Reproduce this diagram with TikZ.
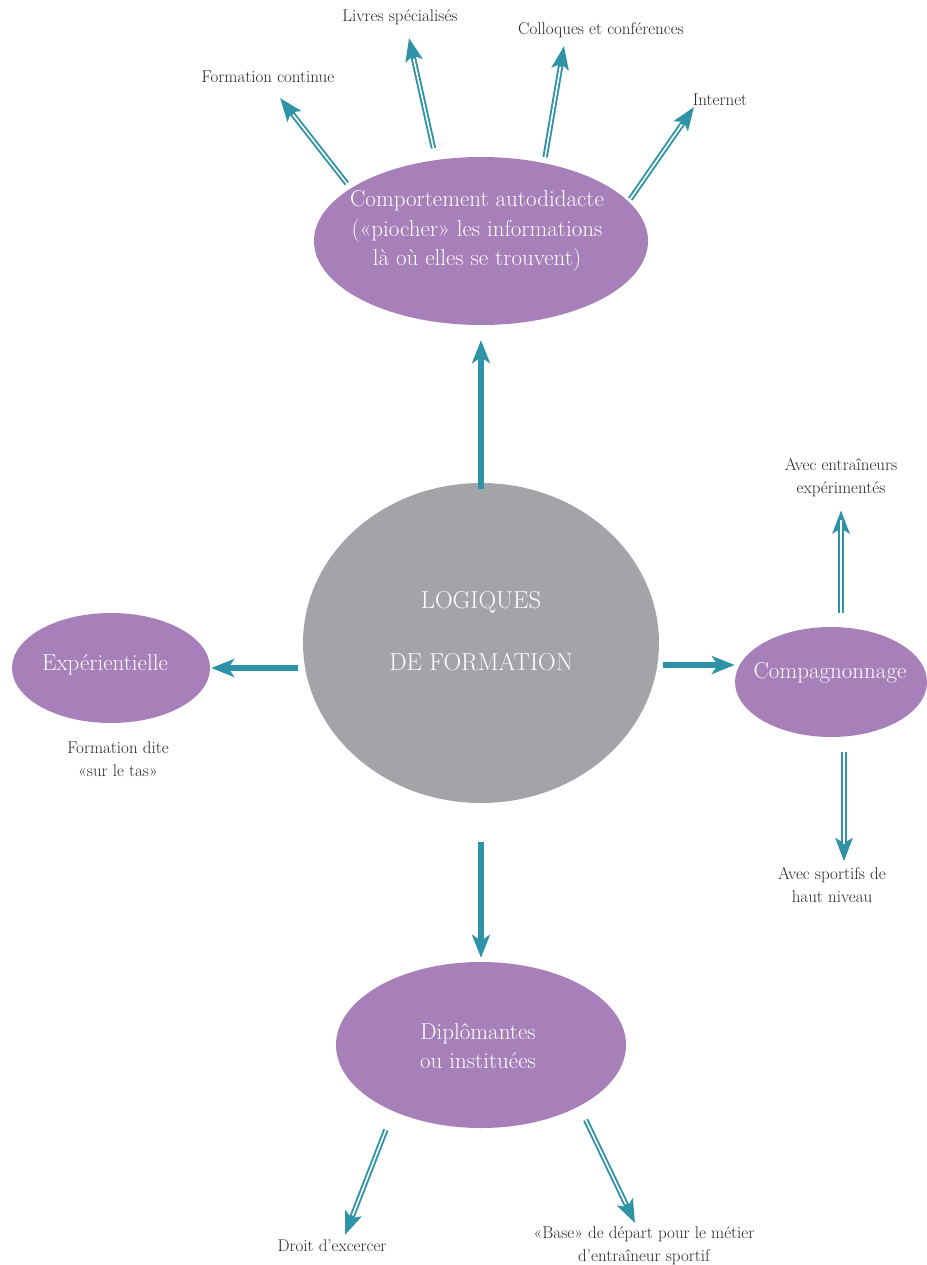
\documentclass[tikz,border=0pt]{standalone}
\usepackage{fontspec}
\usepackage{tikz}
\usetikzlibrary{shapes.geometric, positioning, arrows.meta}
\usepackage{xcolor}
\definecolor{LogiquePurple}{HTML}{A77FB9}
\definecolor{LogiqueTeal}{HTML}{2E93A6}
\definecolor{LogiqueGray}{HTML}{A3A4A8}
\definecolor{LogiqueText}{HTML}{262626}

\begin{document}
\begin{tikzpicture}[x=1pt, y=-1pt,
                bubble/.style={ellipse, fill=LogiquePurple, inner sep=0pt},
                core/.style={ellipse, fill=LogiqueGray, inner sep=0pt, minimum width=356pt, minimum height=320pt},
                bubtext/.style={text=white, align=center, inner sep=0pt, font=\fontsize{23}{29.5}\selectfont},
                note/.style={text=LogiqueText, align=center, inner sep=2pt, font=\fontsize{17}{23}\selectfont},
                conn/.style={-{Stealth[length=23pt, width=18pt, inset=6pt]}, LogiqueTeal, line width=6pt},
                dbl/.style={-{Stealth[length=23pt, width=17pt, inset=5pt]}, draw=LogiqueTeal, line width=5.4pt,
                    postaction={draw=white, line width=1.6pt, -, shorten >=21pt}}
            ]
                \useasboundingbox (0,0) rectangle (926,1265);

                % Centre
                \node[core] (logic) at (481,643) {};
                \node[bubtext, font=\fontsize{24.5}{32}\selectfont] (logic-txt) at (481,631) {LOGIQUES\\[30pt]DE FORMATION};

                % Branches
                \node[bubble, minimum width=334pt, minimum height=168pt] (auto) at (481,241) {};
                \node[bubtext] (auto-txt) at (477,231) {Comportement autodidacte\\(«piocher» les informations\\là où elles se trouvent)};
                \node[bubble, minimum width=198pt, minimum height=110pt] (exp) at (111,668) {};
                \node[bubtext] (exp-txt) at (105,665) {Expérientielle};
                \node[bubble, minimum width=192pt, minimum height=110pt] (comp) at (831,682) {};
                \node[bubtext] (comp-txt) at (830,673) {Compagnonnage};
                \node[bubble, minimum width=290pt, minimum height=166pt] (dipl) at (481,1045) {};
                \node[bubtext] (dipl-txt) at (478,1046) {Diplômantes\\ou instituées};

                % Notes
                \node[note] (fc) at (268,77) {Formation continue};
                \node[note] (livres) at (400,17) {Livres spécialisés};
                \node[note] (coll) at (601,30) {Colloques et conférences};
                \node[note] (inet) at (720,100) {Internet};
                \node[note] (ae) at (841,478) {Avec entraîneurs\\expérimentés};
                \node[note] (asn) at (832,885) {Avec sportifs de\\haut niveau};
                \node[note] (fdt) at (118,759) {Formation dite\\«sur le tas»};
                \node[note] (droit) at (332,1246) {Droit d'excercer};
                \node[note] (base) at (644,1246) {«Base» de départ pour le métier\\d'entraîneur sportif};

                % Arrow tips near the notes
                \coordinate (fc-tip) at (280,98);
                \coordinate (livres-tip) at (409,38);
                \coordinate (coll-tip) at (564,46);
                \coordinate (inet-tip) at (694,107);
                \coordinate (droit-tip) at (345,1235);
                \coordinate (base-tip) at (635,1223);

                % Main connections
                \draw[conn, shorten <=-6pt, shorten >=15pt] (logic) -- (auto);
                \draw[conn, shorten <=39pt, shorten >=4pt] (logic) -- (dipl);
                \draw[conn, shorten <=5pt, shorten >=1pt] (logic.west |- exp) -- (exp.east);
                \draw[conn, shorten <=4pt] ([yshift=-22pt]logic.east) -- ([yshift=17pt]comp.west);

                % Double arrows
                \foreach \a/\t/\s in {158/fc/6, 119/livres/12, 51/coll/6, 15/inet/3} {
                    \draw[dbl, shorten <=\s pt] (auto.\a) -- (\t-tip);
                }
                \draw[dbl, shorten <=14pt, shorten >=11pt] ([xshift=10pt]comp.north) -- (ae.south);
                \draw[dbl, shorten <=15pt, shorten >=4pt] ([xshift=13pt]comp.south) -- ([xshift=12pt]asn.north);
                \draw[dbl, shorten <=20pt] (dipl.217) -- (droit-tip);
                \draw[dbl, shorten <=15pt] (dipl.328) -- (base-tip);
            \end{tikzpicture}
\end{document}
